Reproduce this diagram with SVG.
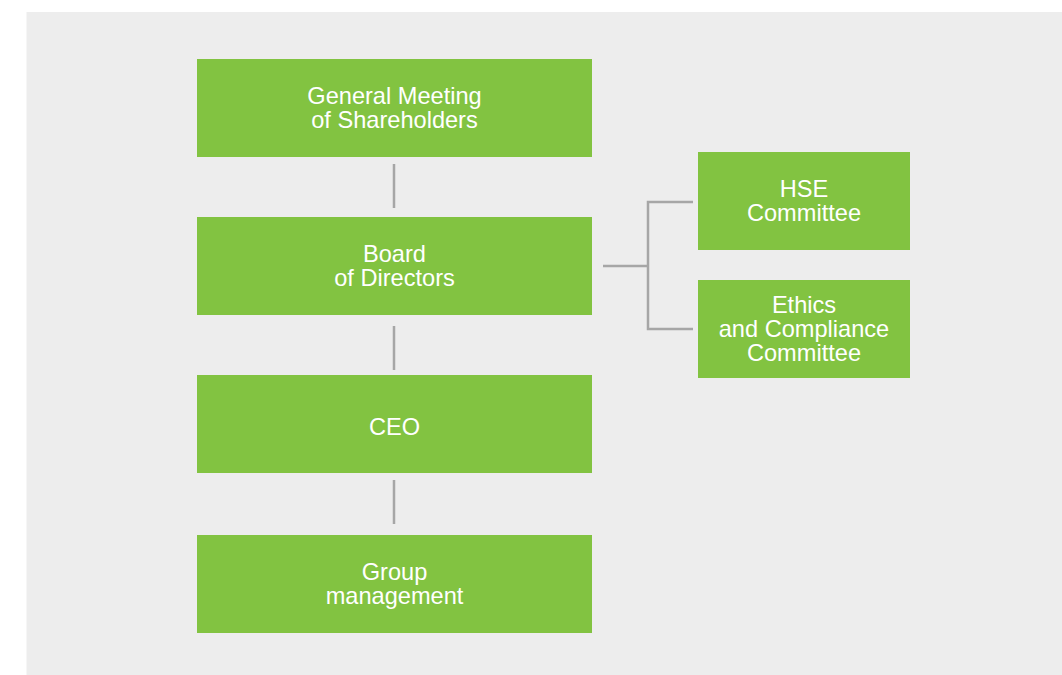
<svg xmlns="http://www.w3.org/2000/svg" width="1062" height="675" viewBox="0 0 1062 675">
<style>
.box{fill:#82c341}
.t{fill:#ffffff;font-family:"Liberation Sans",Arial,sans-serif;font-size:23.6px;text-anchor:middle}
.c{stroke:#a6a6a6;stroke-width:2.5;fill:none}
</style>
<rect x="0" y="0" width="1062" height="675" fill="#ffffff"/>
<rect x="26.5" y="12" width="1035.5" height="663" fill="#ededed"/>
<g id="connectors">
<line class="c" x1="394" y1="164" x2="394" y2="208"/>
<line class="c" x1="394" y1="326" x2="394" y2="370"/>
<line class="c" x1="394" y1="480" x2="394" y2="524"/>
<path class="c" d="M603 266 H648 M693 202 H648 V329 H693"/>
</g>
<g id="gms">
<rect class="box" x="197" y="59" width="395" height="98"/>
<text class="t" x="394.5" y="104">General Meeting</text>
<text class="t" x="394.5" y="128">of Shareholders</text>
</g>
<g id="board">
<rect class="box" x="197" y="217" width="395" height="98"/>
<text class="t" x="394.5" y="262">Board</text>
<text class="t" x="394.5" y="286">of Directors</text>
</g>
<g id="ceo">
<rect class="box" x="197" y="375" width="395" height="98"/>
<text class="t" x="394.5" y="435">CEO</text>
</g>
<g id="group">
<rect class="box" x="197" y="535" width="395" height="98"/>
<text class="t" x="394.5" y="580">Group</text>
<text class="t" x="394.5" y="604">management</text>
</g>
<g id="hse">
<rect class="box" x="698" y="152" width="212" height="98"/>
<text class="t" x="804" y="197">HSE</text>
<text class="t" x="804" y="221">Committee</text>
</g>
<g id="ethics">
<rect class="box" x="698" y="280" width="212" height="98"/>
<text class="t" x="804" y="313">Ethics</text>
<text class="t" x="804" y="337">and Compliance</text>
<text class="t" x="804" y="361">Committee</text>
</g>
</svg>
